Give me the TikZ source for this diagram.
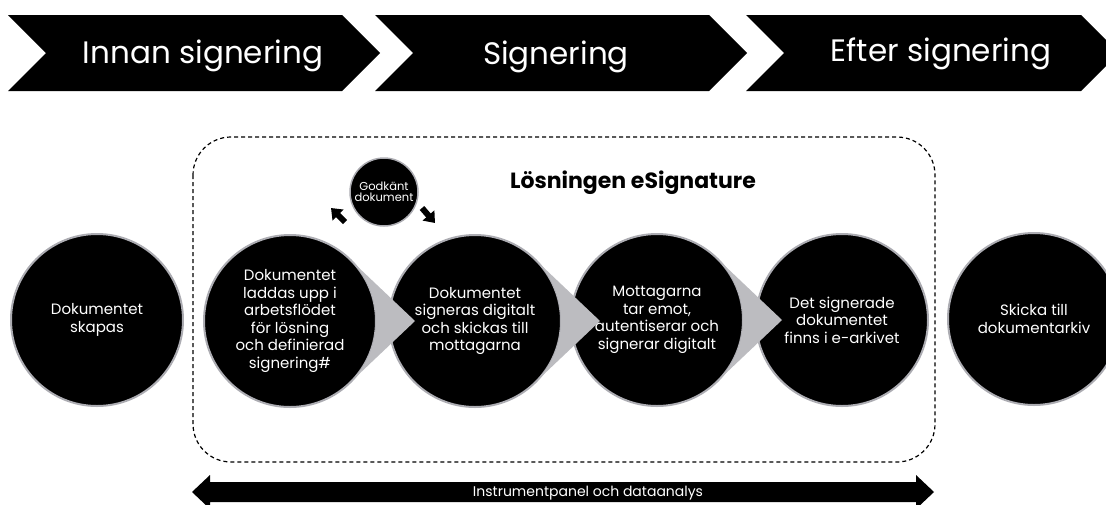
\documentclass[tikz,border=0pt]{standalone}
\usepackage{fontspec}
\setmainfont{Poppins}
\usetikzlibrary{arrows.meta,calc}
\definecolor{ptrgray}{RGB}{188,188,192}
\definecolor{ringgray}{RGB}{172,172,178}
\begin{document}
\begin{tikzpicture}[x=1pt, y=-1pt, line join=round, >={Triangle},
		phase/.style={text=white, anchor=base, font=\fontsize{31}{35}\selectfont},
		stage/.style={circle, fill=black, draw=ringgray, line width=2pt, minimum size=172pt, inner sep=0pt, text=white, align=center, font=\fontsize{15}{17.5}\selectfont},
		pointer/.style={fill=ptrgray}]
	\useasboundingbox (0,0) rectangle (1106,504);
	% phases
	\fill (8,15)--(342,15)--(380,53)--(342,91)--(8,91)--(46,53)--cycle;
	\fill (375,15)--(709,15)--(747,53)--(709,91)--(375,91)--(413,53)--cycle;
	\fill (746,15)--(1081,15)--(1119,53)--(1081,91)--(746,91)--(784,53)--cycle;
	\node[phase] (before) at (203,63) {Innan signering};
	\node[phase] (during) at (556,64) {Signering};
	\node[phase] (after) at (941,61) {Efter signering};
	% solution box
	\draw[dash pattern=on 4pt off 3pt, line width=1.2pt, rounded corners=38pt] (193,137) rectangle (935,462);
	\node[font=\bfseries\fontsize{22}{26}\selectfont] (title) at (633,183) {Lösningen eSignature};
	% stages
	\node[stage] (create) at (97,320) {Dokumentet\\skapas};
	\node[stage] (upload) at (290,321) {Dokumentet\\laddas upp i\\arbetsflödet\\för lösning\\och definierad\\signering\#};
	\node[stage] (sign) at (475,321) {Dokumentet\\signeras digitalt\\och skickas till\\mottagarna};
	\node[stage] (receive) at (657,320) {Mottagarna\\tar emot,\\autentiserar och\\signerar digitalt};
	\node[stage] (archive) at (842,320) {Det signerade\\dokumentet\\finns i e-arkivet};
	\node[stage] (send) at (1034,319) {Skicka till\\dokumentarkiv};
	\foreach \s in {upload,sign,receive}
		\fill[pointer] (\s.center) ++(46:86) -- ($(\s.center)+(125,0)$) -- ($(\s.center)+(-46:86)$) arc[start angle=-46, end angle=46, radius=86] -- cycle;
	% approval loop
	\node[stage, minimum size=68pt, line width=1.5pt, font=\fontsize{11.5}{11.5}\selectfont] (ok) at (384,192) {Godkänt\\dokument};
	\coordinate (lfrom) at (345,222);
	\coordinate (lto) at (331,208);
	\coordinate (rfrom) at (422,208);
	\coordinate (rto) at (435,223);
	\draw[-{Triangle[width=15pt,length=10pt]}, line width=6pt] (lfrom) -- (lto);
	\draw[-{Triangle[width=15pt,length=10pt]}, line width=6pt] (rfrom) -- (rto);
	% dashboard
	\fill (192,492)--(210,475)--(210,482)--(916,482)--(916,475)--(934,492)--(916,509)--(916,502)--(210,502)--(210,509)--cycle;
	\node[text=white, font=\fontsize{14}{16}\selectfont] (dash) at (588,493) {Instrumentpanel och dataanalys};
\end{tikzpicture}
\end{document}
